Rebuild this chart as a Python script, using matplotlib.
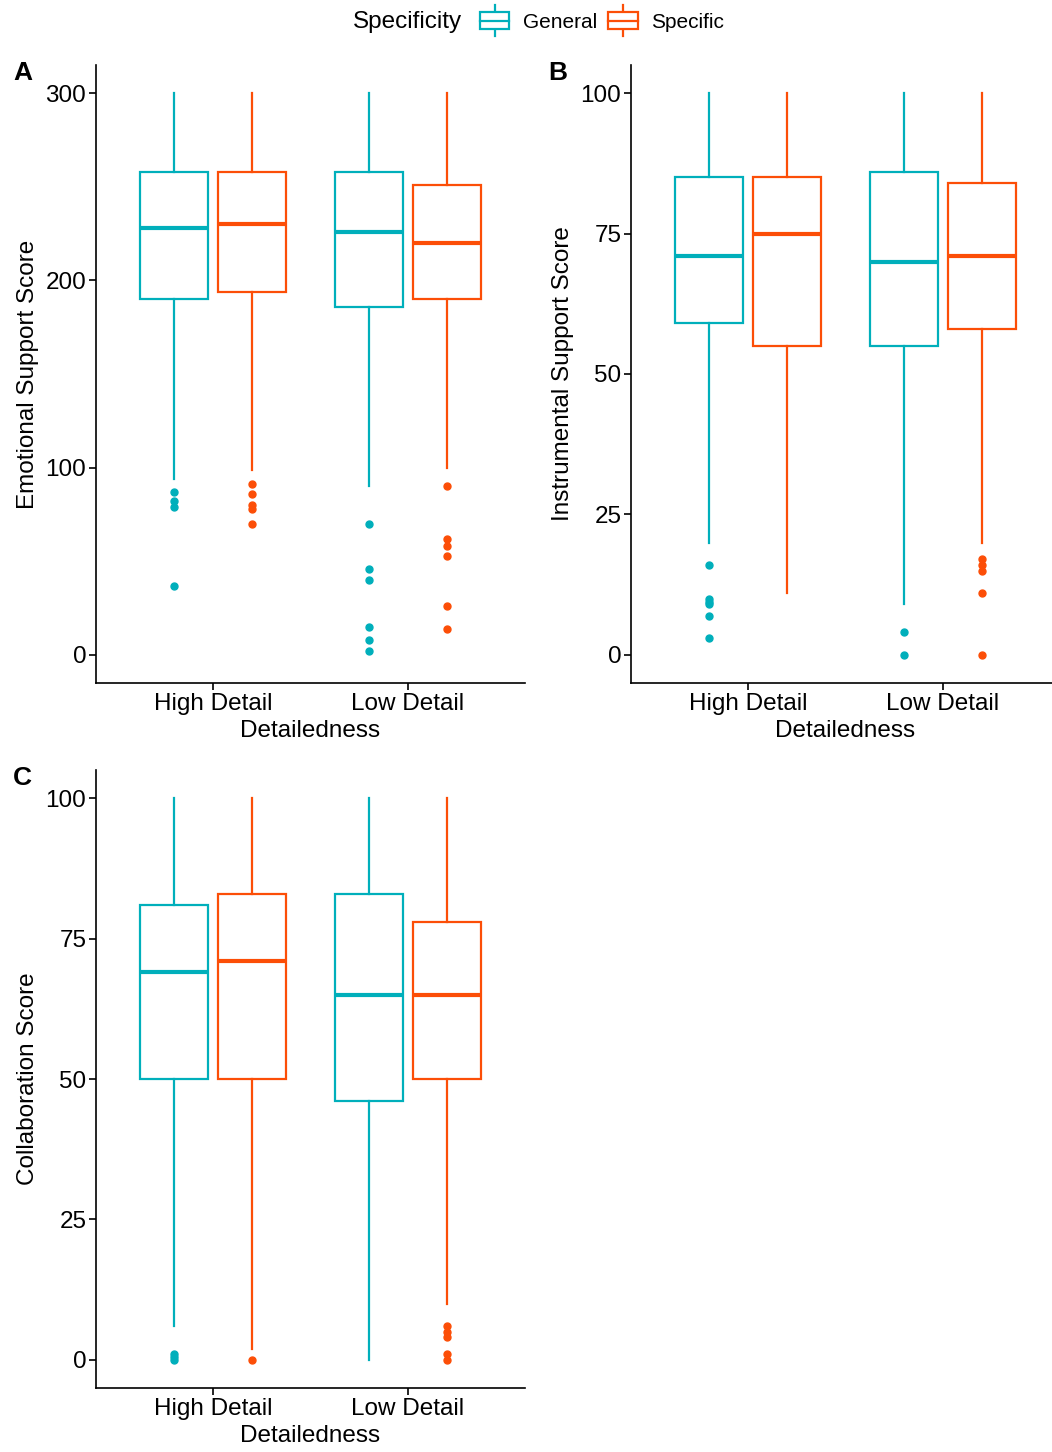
import matplotlib
matplotlib.use("Agg")
import matplotlib.pyplot as plt
from matplotlib.legend_handler import HandlerBase
from matplotlib.patches import Rectangle
from matplotlib.lines import Line2D

plt.rcParams['font.family'] = ['Liberation Sans', 'DejaVu Sans']

groups = ["High Detail", "Low Detail"]
series = ["General", "Specific"]
colors = {"General": "#00AFBB", "Specific": "#FC4E07"}

# stats per panel: [group][series] -> (whislo, q1, med, q3, whishi, fliers)
emotional = {
    "High Detail": {
        "General": (94, 190, 228, 258, 300, [87, 82, 79, 37]),
        "Specific": (99, 194, 230, 258, 300, [91, 86, 80, 78, 70]),
    },
    "Low Detail": {
        "General": (90, 186, 226, 258, 300, [70, 46, 40, 15, 8, 2]),
        "Specific": (100, 190, 220, 251, 300, [90, 62, 58, 53, 26, 14]),
    },
}
instrumental = {
    "High Detail": {
        "General": (20, 59, 71, 85, 100, [16, 10, 9.5, 9, 7, 3]),
        "Specific": (11, 55, 75, 85, 100, []),
    },
    "Low Detail": {
        "General": (9, 55, 70, 86, 100, [4, 0]),
        "Specific": (20, 58, 71, 84, 100, [17, 16, 15, 11, 0]),
    },
}
collaboration = {
    "High Detail": {
        "General": (6, 50, 69, 81, 100, [1, 0.5, 0]),
        "Specific": (2, 50, 71, 83, 100, [0]),
    },
    "Low Detail": {
        "General": (0, 46, 65, 83, 100, []),
        "Specific": (10, 50, 65, 78, 100, [6, 5, 4, 1, 0]),
    },
}

panels = [
    ("A", emotional, "Emotional Support Score", [0, 100, 200, 300], (-15, 315)),
    ("B", instrumental, "Instrumental Support Score", [0, 25, 50, 75, 100], (-5, 105)),
    ("C", collaboration, "Collaboration Score", [0, 25, 50, 75, 100], (-5, 105)),
]

W, H = 1052, 1452
fig = plt.figure(figsize=(W / 100, H / 100), dpi=100)

rects = {
    "A": (96, 65, 525, 683),
    "B": (631, 65, 1060, 683),
    "C": (96, 770, 525, 1388),
}
labelpos = {"A": (13, 73), "B": (548, 73), "C": (13, 778)}

offset = 0.2
bw = 0.35
FS = 17.5

for letter, data, ylabel, yticks, ylim in panels:
    x0, y0, x1, y1 = rects[letter]
    ax = fig.add_axes([x0 / W, 1 - y1 / H, (x1 - x0) / W, (y1 - y0) / H])
    for gi, g in enumerate(groups):
        for si, s in enumerate(series):
            lo, q1, med, q3, hi, fl = data[g][s]
            pos = gi + 1 + (-offset if si == 0 else offset)
            c = colors[s]
            ax.bxp([dict(med=med, q1=q1, q3=q3, whislo=lo, whishi=hi, fliers=fl)],
                   positions=[pos], widths=bw, showcaps=False, patch_artist=True,
                   boxprops=dict(facecolor="white", edgecolor=c, linewidth=1.6),
                   whiskerprops=dict(color=c, linewidth=1.6),
                   medianprops=dict(color=c, linewidth=3),
                   flierprops=dict(marker="o", markerfacecolor=c, markeredgecolor=c,
                                   markersize=5, linestyle="none"))
    ax.set_xlim(0.4, 2.6)
    ax.set_ylim(*ylim)
    ax.set_xticks([1, 2])
    ax.set_xticklabels(groups)
    ax.set_yticks(yticks)
    ax.set_yticklabels([str(t) for t in yticks])
    for sp in ["top", "right"]:
        ax.spines[sp].set_visible(False)
    for sp in ["left", "bottom"]:
        ax.spines[sp].set_linewidth(1.2)
    ax.tick_params(axis="both", labelsize=FS, length=5, width=1.2, colors="black", pad=2)
    ax.set_xlabel("Detailedness", fontsize=FS, labelpad=4)
    ax.set_ylabel(ylabel, fontsize=FS, labelpad=5)
    lx, ly = labelpos[letter]
    fig.text(lx / W, 1 - ly / H, letter, fontsize=19, fontweight="bold", va="center", ha="left")


class BoxHandler(HandlerBase):
    def create_artists(self, legend, orig_handle, xdescent, ydescent, width, height, fontsize, trans):
        c = orig_handle.get_color()
        bx = width * 0.5
        r = Rectangle((xdescent + 0, ydescent - height * 0.05), width, height * 1.1,
                      facecolor="white", edgecolor=c, linewidth=1.6, transform=trans)
        m = Line2D([xdescent, xdescent + width], [ydescent + height / 2] * 2, color=c, lw=1.6, transform=trans)
        w1 = Line2D([xdescent + bx] * 2, [ydescent + height * 1.05, ydescent + height * 1.5], color=c, lw=1.6, transform=trans)
        w2 = Line2D([xdescent + bx] * 2, [ydescent - height * 0.05, ydescent - height * 0.5], color=c, lw=1.6, transform=trans)
        return [w1, w2, r, m]


handles = [Line2D([], [], color=colors[s]) for s in series]
fig.text(353 / W, 1 - 22 / H, "Specificity", fontsize=FS, va="center", ha="left")
fig.legend(handles, series, handler_map={Line2D: BoxHandler()}, ncol=2, frameon=False,
           loc="center left", bbox_to_anchor=(480 / W, 1 - 23 / H), fontsize=15,
           handlelength=1.4, handleheight=0.75, handletextpad=0.65, columnspacing=0.55,
           borderaxespad=0, borderpad=0)

fig.savefig("out.png", dpi=100)
